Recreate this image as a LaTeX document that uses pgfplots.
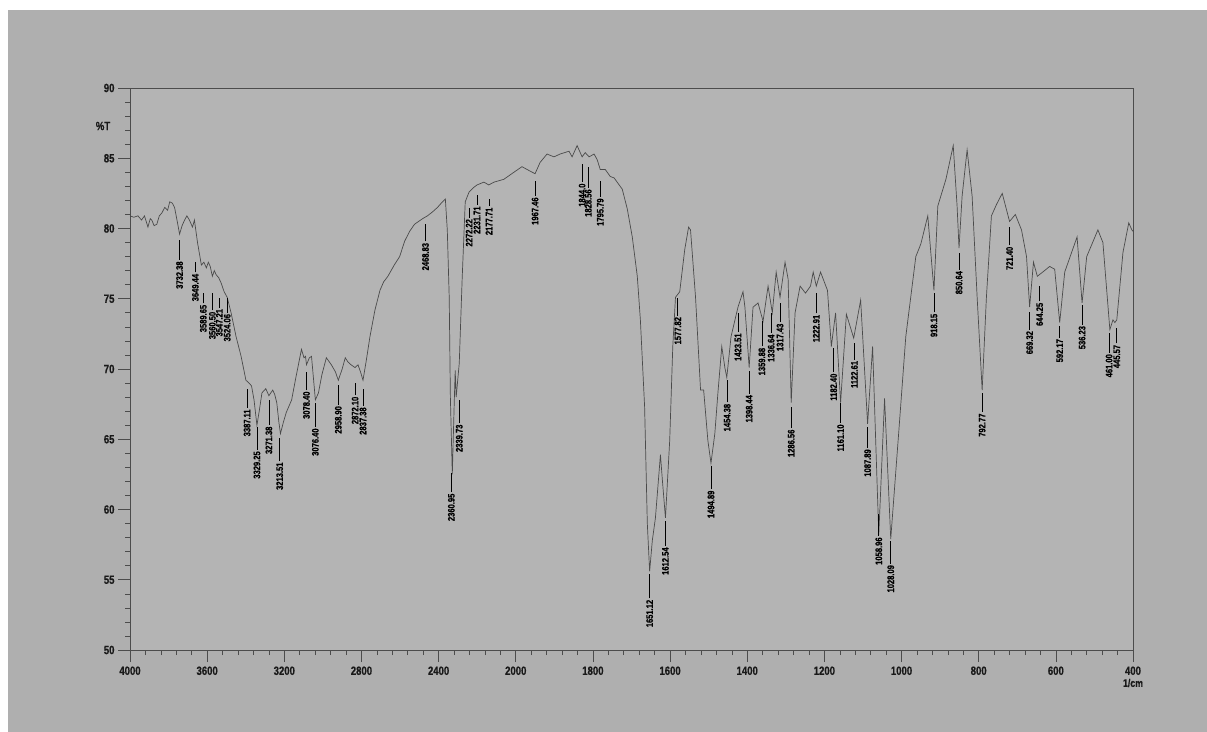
\documentclass[border=0pt]{standalone}
\usepackage{fontspec}
\setmainfont{Liberation Sans}[FakeStretch=0.8, BoldFeatures={FakeBold=0.6}]
\usepackage{pgfplots}
\usepackage{pgfplotstable}
\pgfplotsset{compat=1.18}
\definecolor{bg}{HTML}{AFAFAF}
\definecolor{plotbg}{HTML}{B4B4B4}
\definecolor{curve}{HTML}{4A4A4A}
\definecolor{axcol}{HTML}{4C4C4C}
\def\peaklab#1/#2\relax{#1\kern1.5bp\rule[0.33em]{#2bp}{0.5pt}}

\pgfplotstableread{
wn T
4000 80.9
3980 80.8
3959 80.9
3940 80.6
3925 80.9
3907 80.1
3895 80.7
3887 80.6
3875 80.2
3861 80.3
3848 80.9
3835 81.1
3820 81.5
3805 81.3
3794 81.9
3780 81.8
3769 81.5
3755 80.5
3743 79.6
3730 80.2
3717 80.6
3705 80.9
3692 80.6
3676 80.1
3666 80.6
3650 79.0
3640 78.2
3630 77.4
3617 77.6
3604 77.2
3594 77.6
3584 77.3
3573 76.6
3563 77.0
3553 76.7
3540 76.5
3527 76.1
3512 75.5
3496 75.1
3476 74.0
3450 72.3
3424 70.9
3399 69.2
3383 69.0
3370 68.8
3357 67.8
3342 66.0
3330 67.0
3316 68.3
3296 68.6
3280 68.1
3260 68.5
3250 68.2
3239 67.6
3228 66.2
3220 65.4
3205 66.2
3190 66.9
3162 67.8
3140 69.4
3111 71.4
3098 70.8
3090 70.9
3085 70.3
3070 70.8
3059 70.9
3048 69.2
3039 67.8
3023 68.3
3005 69.6
2982 70.8
2956 70.3
2935 69.8
2920 69.2
2900 70.0
2884 70.8
2870 70.5
2854 70.3
2833 70.1
2818 70.3
2805 69.8
2792 69.2
2775 70.6
2756 72.3
2730 74.2
2704 75.6
2685 76.2
2663 76.6
2630 77.4
2602 78.0
2576 79.1
2550 79.8
2525 80.3
2483 80.7
2458 80.9
2430 81.2
2406 81.5
2380 81.9
2365 82.1
2355 79.9
2345 75.1
2339 68.0
2329 62.5
2319 67.6
2314 69.9
2309 68.0
2293 70.4
2278 76.4
2262 81.9
2242 82.6
2220 82.9
2201 83.1
2165 83.3
2140 83.1
2113 83.3
2062 83.5
2010 84.0
1984 84.4
1964 84.1
1950 83.9
1937 84.7
1919 85.3
1901 85.1
1885 85.3
1862 85.5
1854 85.1
1841 85.9
1828 85.1
1820 85.4
1810 85.1
1797 85.3
1789 84.9
1781 84.2
1768 84.2
1755 83.7
1745 83.6
1732 83.1
1724 82.8
1711 81.4
1698 79.4
1685 76.6
1677 73.5
1666 67.3
1659 59.0
1653 55.6
1646 57.8
1638 59.4
1625 63.9
1620 62.1
1612 59.4
1601 64.9
1593 71.6
1586 75.1
1575 75.5
1562 78.5
1552 80.1
1547 79.9
1534 75.1
1521 68.5
1513 68.5
1502 64.9
1494 63.3
1484 65.4
1476 68.3
1466 71.6
1458 70.1
1453 69.4
1442 72.3
1424 74.4
1411 75.5
1406 74.4
1395 70.1
1385 74.4
1372 74.7
1359 73.4
1346 75.9
1335 74.0
1325 76.9
1315 75.1
1302 77.6
1294 76.4
1286 67.6
1276 74.0
1263 75.9
1249 75.4
1236 75.9
1229 76.9
1221 75.9
1210 76.9
1192 75.6
1182 71.6
1171 74.0
1158 67.6
1143 73.9
1124 72.2
1106 74.9
1088 66.1
1075 71.6
1059 58.2
1044 67.9
1028 57.9
1007 65.6
989 72.3
963 78.0
950 78.9
932 80.9
916 75.6
906 81.6
885 83.5
866 85.9
856 81.6
851 78.6
843 82.3
830 85.6
817 82.3
804 75.1
791 68.5
780 75.1
767 80.9
754 81.7
739 82.5
720 80.5
705 81.0
689 79.9
676 78.0
668 74.4
658 77.6
648 76.6
634 76.9
616 77.3
603 77.1
590 73.3
577 76.9
545 79.4
532 74.7
520 78.0
491 79.9
478 79.0
460 72.8
452 73.5
447 73.3
442 73.5
426 78.3
411 80.4
403 79.9
400 79.8
}\spectrum

\pgfplotstableread{
wn T lab
3743 79.2 3732.38/20
3661 77.6 3649.44/10
3620 75.4 3589.65/10
3573 75.4 3560.50/17
3537 75.1 3547.21/10
3496 75.1 3524.06/15
3393 68.6 3387.11/19
3342 65.9 3329.25/23
3280 67.8 3271.38/25
3224 65.1 3213.51/23
3085 69.8 3078.40/18
3039 67.6 3076.40/24
2920 68.9 2958.90/20
2833 69.0 2872.10/12
2792 68.6 2837.38/17
2468 80.3 2468.83/17
2334 62.6 2360.95/19
2293 67.8 2339.73/23
2242 81.5 2272.22/10
2201 82.4 2231.71/10
2139 82.1 2177.71/7
1950 83.4 1967.46/15
1828 84.6 1844.0/18
1812 84.4 1828.56/21
1781 83.4 1795.79/16
1653 55.4 1651.12/24
1612 59.2 1612.54/25
1580 75.1 1577.82/18
1494 63.1 1494.89/23
1452 69.2 1454.38/22
1424 74.0 1423.51/19
1395 69.9 1398.44/23
1362 73.4 1359.88/25
1338 74.0 1336.64/20
1315 74.7 1317.43/19
1286 67.3 1286.56/21
1221 75.4 1222.91/20
1176 71.5 1182.40/24
1158 67.6 1161.10/20
1122 71.9 1122.61/17
1088 65.9 1087.89/21
1059 59.7 1058.96/22
1028 57.8 1028.09/23
916 75.4 918.15/19
851 78.3 850.64/17
791 68.3 792.77/19
720 80.1 721.40/18
668 74.1 669.32/18
642 75.9 644.25/15
590 73.1 592.17/12
532 74.6 536.23/20
462 72.6 461.00/20
442 72.9 445.57/15
}\peaks

\begin{document}
\begin{tikzpicture}
\fill[bg] (0,0) rectangle (1207bp,732bp);
\fill[white] (0,722bp) rectangle (1207bp,732bp);
\fill[white] (0,0) rectangle (8bp,732bp);
\begin{axis}[
  at={(130bp,82bp)}, anchor=south west,
  scale only axis, width=1003bp, height=562bp,
  xmin=0, xmax=13, ymin=50, ymax=90,
  x filter/.expression={x>=2000 ? (4000-x)/400 : 5+(2000-x)/200},
  xtick={0,1,...,13},
  xticklabels={4000,3600,3200,2800,2400,2000,1800,1600,1400,1200,1000,800,600,400},
  ytick={50,55,...,90},
  minor x tick num=4, minor y tick num=4,
  tick align=outside, xtick pos=bottom, ytick pos=left,
  major tick length=12bp, minor tick length=5bp,
  axis line style={axcol, line width=0.6pt},
  tick style={axcol, line width=0.6pt},
  ticklabel style={font=\fontsize{12}{14}\selectfont\bfseries, text=black!90},
  xticklabel style={yshift=-1bp},
  /pgf/number format/assume math mode=true,
  axis background/.style={fill=plotbg},
  clip=false,
]
\addplot[curve, line width=0.7pt] table[x=wn, y=T] {\spectrum};
\addplot[draw=none, point meta=explicit symbolic,
  nodes near coords={\expandafter\peaklab\pgfplotspointmeta\relax},
  every node near coord/.append style={rotate=90, anchor=east, inner sep=0pt,
     font=\fontsize{9.5}{10}\selectfont\bfseries, text=black}]
  table[x=wn, y=T, meta=lab] {\peaks};
\end{axis}
\node[font=\fontsize{12}{14}\selectfont\bfseries, text=black!90] at (103bp,606bp) {\%T};
\node[font=\fontsize{11}{13}\selectfont\bfseries, text=black!90] at (1133bp,49bp) {1/cm};
\end{tikzpicture}
\end{document}
